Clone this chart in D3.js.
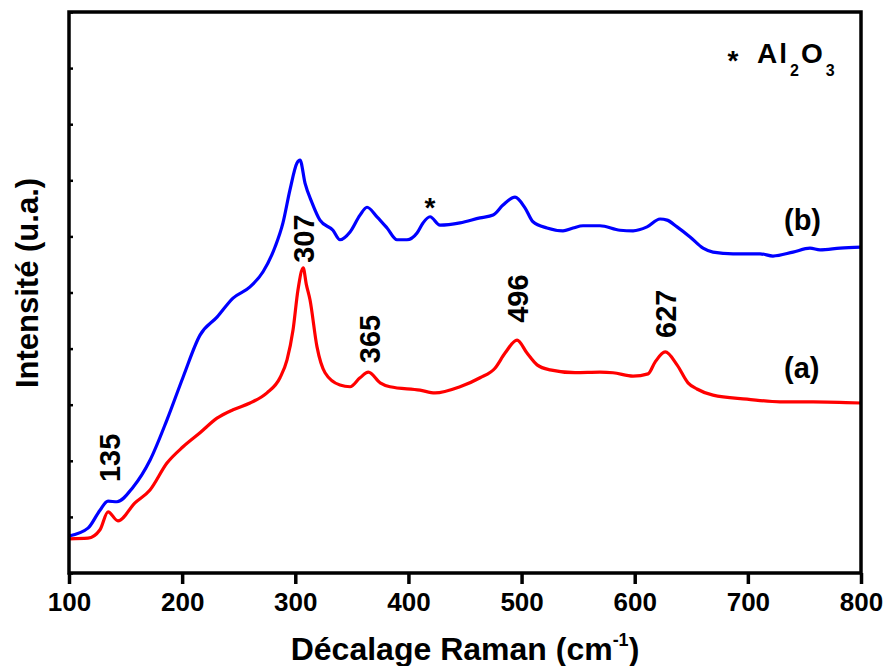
<!DOCTYPE html>
<html>
<head>
<meta charset="utf-8">
<script src="https://cdn.jsdelivr.net/npm/d3@7"></script>
<style>
  html, body { margin: 0; padding: 0; background: #fff; }
  svg { display: block; }
  text { font-family: "Liberation Sans", Arial, sans-serif; font-weight: bold; fill: #000; }
</style>
</head>
<body>
<svg id="chart" width="885" height="666"></svg>
<script>
// ---- data ----
const xTicks = [100, 200, 300, 400, 500, 600, 700, 800];
const yTicks = [0, 1, 2, 3, 4, 5, 6, 7, 8, 9, 10];

// Spectrum (a) - red
const wnA = [100, 116.8, 127.4, 134.5, 143.3, 158.3, 171.6, 186.6, 200.8, 215.8, 230.8, 245, 260, 275, 286.5, 292.7, 298, 302.4, 307, 309.7, 313, 319.2, 326.3, 339.5, 348.4, 357.2, 364.6, 375, 383.7, 410.2, 423.5, 445.6, 463.3, 476.5, 485.4, 496, 504.8, 513.7, 525.2, 547.3, 569.3, 580.8, 598.5, 611.8, 618, 627, 637.4, 647.1, 655, 669.2, 699.3, 728.4, 757.6, 800];
const intA = [0.61, 0.62, 0.77, 1.09, 0.93, 1.25, 1.48, 1.96, 2.25, 2.50, 2.76, 2.91, 3.03, 3.21, 3.48, 3.80, 4.33, 5.05, 5.44, 5.15, 4.87, 4.03, 3.57, 3.35, 3.32, 3.48, 3.58, 3.39, 3.32, 3.26, 3.21, 3.32, 3.48, 3.65, 3.92, 4.15, 3.92, 3.71, 3.62, 3.57, 3.58, 3.57, 3.51, 3.55, 3.76, 3.94, 3.71, 3.39, 3.28, 3.17, 3.10, 3.05, 3.05, 3.03];

// Spectrum (b) - blue
const wnB = [100, 116.8, 127.4, 134.5, 142.4, 156.6, 171.6, 186.6, 200.8, 215.8, 230.8, 245, 260, 271.5, 282.1, 289.1, 295.3, 301.5, 304.2, 308.6, 314.8, 321.8, 333.3, 339.5, 348.4, 357.2, 363.4, 372.2, 381.1, 389.9, 398.7, 407.6, 412.9, 419.1, 427.9, 445.6, 463.3, 474.8, 483.6, 494.2, 503, 510.1, 522.5, 536.6, 545.5, 554.3, 569.3, 587, 598.5, 610.9, 622.4, 628.6, 637.4, 648.9, 660.4, 669.2, 686.9, 710.8, 722.2, 739.9, 754.9, 763.8, 781.5, 800];
const intB = [0.66, 0.80, 1.12, 1.28, 1.27, 1.53, 2.01, 2.73, 3.49, 4.24, 4.56, 4.90, 5.10, 5.37, 5.81, 6.24, 6.83, 7.31, 7.36, 6.95, 6.60, 6.29, 6.11, 5.94, 6.08, 6.38, 6.52, 6.35, 6.15, 5.94, 5.94, 6.06, 6.24, 6.35, 6.20, 6.24, 6.33, 6.38, 6.56, 6.70, 6.51, 6.26, 6.15, 6.10, 6.15, 6.19, 6.19, 6.11, 6.10, 6.17, 6.31, 6.29, 6.17, 5.99, 5.79, 5.72, 5.69, 5.69, 5.65, 5.72, 5.79, 5.76, 5.79, 5.81];

// Peak annotations
const peakLabels = ["135", "307", "365", "496", "627"];
const peakX = [135, 307, 365, 496, 627];
const peakY = [1.62, 5.53, 3.74, 4.46, 4.19];

// ---- layout ----
const svg = d3.select("#chart");
const x = d3.scaleLinear().domain([100, 800]).range([69, 861]);
const y = d3.scaleLinear().domain([0, 10]).range([573, 12]);

// curves
const line = d3.line().x(d => x(d[0])).y(d => y(d[1])).curve(d3.curveMonotoneX);
svg.append("path").datum(d3.zip(wnA, intA)).attr("d", line)
  .attr("fill", "none").attr("stroke", "#ff0000").attr("stroke-width", 3.2).attr("stroke-linejoin", "round");
svg.append("path").datum(d3.zip(wnB, intB)).attr("d", line)
  .attr("fill", "none").attr("stroke", "#0000ff").attr("stroke-width", 3.2).attr("stroke-linejoin", "round");

// frame
svg.append("rect").attr("x", 69).attr("y", 12).attr("width", 792).attr("height", 561)
  .attr("fill", "none").attr("stroke", "#000").attr("stroke-width", 3.5);

// x axis
const xAxis = d3.axisBottom(x).tickValues(xTicks).tickSize(11).tickPadding(9).tickSizeOuter(0);
const gx = svg.append("g").attr("transform", "translate(0,573)").call(xAxis);
gx.select(".domain").remove();
gx.selectAll(".tick line").attr("stroke", "#000").attr("stroke-width", 3.5);
gx.selectAll(".tick text").style("font-size", "26px").style("font-family", "'Liberation Sans', Arial, sans-serif").style("font-weight", "bold").attr("fill", "#000");

// y axis (ticks only, no labels)
const yAxis = d3.axisRight(y).tickValues(yTicks).tickSize(4).tickFormat("");
const gy = svg.append("g").attr("transform", "translate(69,0)").call(yAxis);
gy.select(".domain").remove();
gy.selectAll(".tick line").attr("stroke", "#000").attr("stroke-width", 2.5);

// axis titles
const xt = svg.append("text").attr("x", 465).attr("y", 660).attr("text-anchor", "middle").style("font-size", "32px");
xt.append("tspan").text("Décalage Raman (cm");
xt.append("tspan").text("-1").style("font-size", "18px").attr("dy", -14);
xt.append("tspan").text(")").attr("dy", 14);

svg.append("text").attr("transform", "translate(38,283) rotate(-90)").attr("text-anchor", "middle")
  .style("font-size", "31px").text("Intensité (u.a.)");

// peak labels (rotated)
svg.selectAll(".peak").data(peakLabels).enter().append("text")
  .attr("class", "peak")
  .attr("transform", (d, i) => `translate(${x(peakX[i]) + 11},${y(peakY[i])}) rotate(-90)`)
  .attr("text-anchor", "start")
  .style("font-size", "29px")
  .text(d => d);

// sample labels
svg.append("text").attr("x", 784).attr("y", 230).style("font-size", "29px").text("(b)");
svg.append("text").attr("x", 784).attr("y", 378).style("font-size", "29px").text("(a)");

// Al2O3 asterisk on curve
svg.append("text").attr("x", x(419)).attr("y", 217).attr("text-anchor", "middle").style("font-size", "28px").text("*");

// legend: * Al2O3
svg.append("text").attr("x", 733).attr("y", 70).attr("text-anchor", "middle").style("font-size", "28px").text("*");
const lg = svg.append("text").attr("x", 757).attr("y", 63).style("font-size", "28px");
lg.append("tspan").text("Al").attr("letter-spacing", "2");
lg.append("tspan").text("2").style("font-size", "16px").attr("dy", 13).attr("dx", 1);
lg.append("tspan").text("O").attr("dy", -13).attr("dx", 2);
lg.append("tspan").text("3").style("font-size", "16px").attr("dy", 13).attr("dx", 3);
</script>
</body>
</html>
